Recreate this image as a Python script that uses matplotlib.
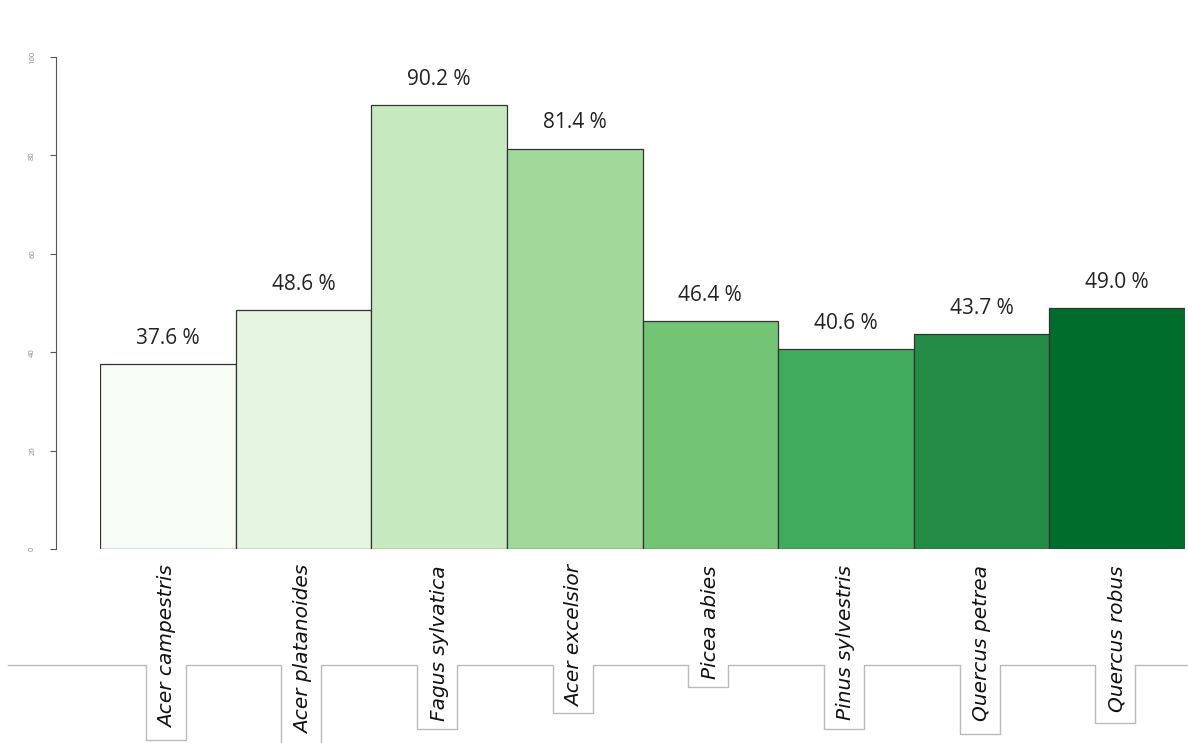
import matplotlib.pyplot as plt
import numpy as np

# data
species = ['Acer campestris', 'Acer platanoides', 'Fagus sylvatica',
           'Acer excelsior', 'Picea abies', 'Pinus sylvestris',
           'Quercus petrea', 'Quercus robus']
values = [37.6, 48.6, 90.2, 81.4, 46.4, 40.6, 43.7, 49.0]
yticks = [0, 20, 40, 60, 80, 100]

# brewer Greens (8)
colors = ['#F7FCF5', '#E5F5E0', '#C7E9C0', '#A1D99B',
          '#74C476', '#41AB5D', '#238B45', '#006D2C']

# layout of the pasted-in label strip (pixels)
W, H = 1188, 743
box_bottom = [740, 745, 729, 713, 687, 729, 734, 723]
box_half = 20
strip_y = 665
label_top = 565

plt.rcParams['font.family'] = ['Open Sans', 'DejaVu Sans']

fig = plt.figure(figsize=(W / 100, H / 100), dpi=100)
ax = fig.add_axes([100 / W, 1 - 549 / H, 1085 / W, (549 - 57) / H])

x = np.arange(len(values))
ax.bar(x, values, width=1.0, align='edge', color=colors,
       edgecolor='#333333', linewidth=0.9)
for i, v in enumerate(values):
    ax.text(i + 0.5, v + 5.2, f'{v:.1f} %', ha='center', va='center',
            fontsize=15, color='#222222')

ax.set_xlim(0, len(values))
ax.set_ylim(0, 100)
for s in ['top', 'right', 'bottom']:
    ax.spines[s].set_visible(False)
ax.spines['left'].set_position(('outward', 32))
ax.spines['left'].set_bounds(0, 100)
ax.spines['left'].set_color('#555555')
ax.set_xticks([])
ax.set_yticks(yticks)
ax.set_yticklabels([str(t) for t in yticks], rotation=90, va='center',
                   fontsize=5.5, color='#888888')
ax.tick_params(axis='y', length=4, width=0.8, color='#555555', pad=10)

# overlay in pixel coordinates for the label strip
ov = fig.add_axes([0, 0, 1, 1], zorder=-1)
ov.set_xlim(0, W)
ov.set_ylim(H, 0)
ov.axis('off')

centers = [ax.transData.transform((i + 0.5, 0))[0] for i in x]

px = [8]
py = [strip_y]
for cx, b in zip(centers, box_bottom):
    l, r = cx - box_half - 2, cx + box_half - 2
    px += [l, l, r, r]
    py += [strip_y, b, b, strip_y]
px.append(1188)
py.append(strip_y)
ov.plot(px, py, color='#bbbbbb', linewidth=1.0)

for cx, name in zip(centers, species):
    ov.text(cx, label_top, name, rotation=90, ha='center', va='top',
            fontsize=14.5, style='italic', color='#111111',
            family='DejaVu Sans')

fig.savefig('out.png', dpi=100)
